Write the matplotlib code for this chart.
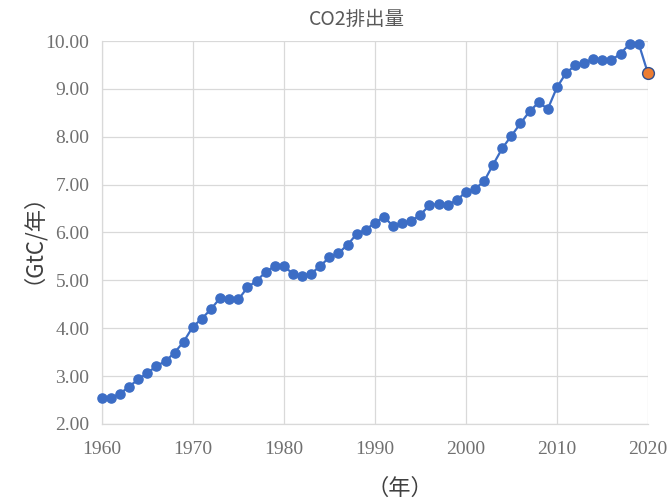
import matplotlib
matplotlib.use("Agg")
import matplotlib.pyplot as plt
import numpy as np

plt.rcParams["font.family"] = ["Noto Sans CJK JP", "DejaVu Sans"]

# CO2 emissions (GtC/yr)
years = np.arange(1960, 2020)
emissions = [
    2.54, 2.54, 2.63, 2.78, 2.93, 3.06, 3.21, 3.31, 3.49, 3.72,
    4.03, 4.20, 4.40, 4.63, 4.61, 4.60, 4.85, 4.99, 5.17, 5.30,
    5.29, 5.14, 5.09, 5.14, 5.30, 5.48, 5.57, 5.74, 5.97, 6.06,
    6.20, 6.33, 6.13, 6.20, 6.24, 6.37, 6.57, 6.60, 6.58, 6.67,
    6.85, 6.91, 7.07, 7.42, 7.76, 8.02, 8.28, 8.53, 8.72, 8.58,
    9.03, 9.33, 9.49, 9.55, 9.62, 9.60, 9.60, 9.74, 9.94, 9.94,
]
year_2020 = 2020
emission_2020 = 9.33

blue = "#3C6DC5"
orange = "#ED7D31"
grey_text = "#707070"
grid_col = "#D9D9D9"

fig = plt.figure(figsize=(6.70, 5.01), dpi=100)
ax = fig.add_axes([0.152, 0.154, 0.815, 0.764])

ax.plot(np.append(years, year_2020), emissions + [emission_2020],
        color=blue, lw=1.6, zorder=2, clip_on=False)
ax.plot(years, emissions, "o", color=blue, ms=6.6, mec=blue, zorder=3,
        clip_on=False)
ax.plot([year_2020], [emission_2020], "o", color=orange, ms=8.5,
        mec="#2F4F8F", mew=1.0, zorder=4, clip_on=False)

ax.set_xlim(1960, 2020)
ax.set_ylim(2, 10)
ax.set_xticks(np.arange(1960, 2021, 10))
ax.set_yticks(np.arange(2, 10.01, 1))
ax.set_yticklabels([f"{v:.2f}" for v in np.arange(2, 10.01, 1)])

ax.grid(True, color=grid_col, lw=0.9)
ax.set_axisbelow(True)
for side in ["top", "right"]:
    ax.spines[side].set_visible(False)
for side in ["left", "bottom"]:
    ax.spines[side].set_color(grid_col)
    ax.spines[side].set_linewidth(0.9)

ax.tick_params(length=0, labelsize=14, labelcolor=grey_text)
ax.tick_params(axis="y", pad=9)
ax.tick_params(axis="x", pad=12)
for lab in ax.get_xticklabels() + ax.get_yticklabels():
    lab.set_family(["Liberation Serif", "DejaVu Serif"])

fig.text(0.533, 0.962, "CO2排出量", ha="center", va="center",
         fontsize=14, color="#595959")
fig.text(0.031, 0.547, "（GtC/年）", ha="center", va="center",
         rotation=90, fontsize=16, color="#404040")
fig.text(0.597, 0.026, "（年）", ha="center", va="center",
         fontsize=16, color="#404040")

fig.savefig("out.png", dpi=100)
